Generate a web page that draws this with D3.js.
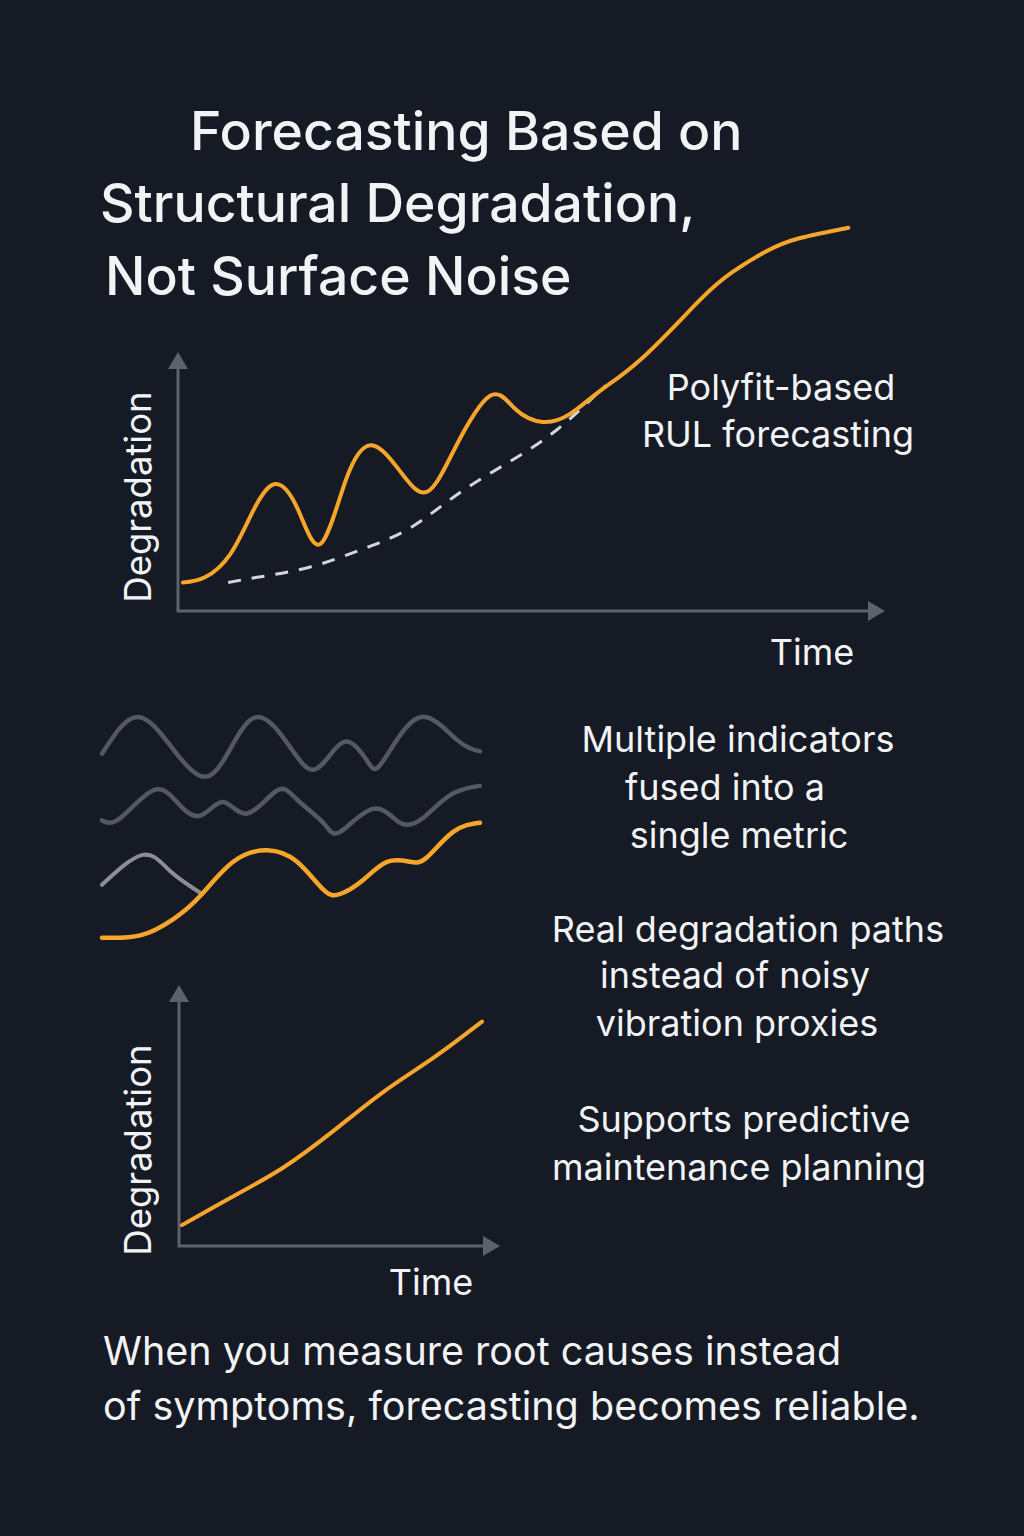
<!DOCTYPE html>
<html>
<head>
<meta charset="utf-8">
<script src="https://cdn.jsdelivr.net/npm/d3@7"></script>
<style>
  html, body { margin: 0; padding: 0; background: #151a24; }
  svg { display: block; }
  text { font-family: Inter, "Noto Sans", sans-serif; fill: #f2f3f5; }
</style>
</head>
<body>
<svg id="chart" width="1024" height="1536"></svg>
<script>
// top chart: noisy degradation signal and polyfit trend
var topTime = [0.7, 3.8, 7.4, 10.5, 13.7, 17.0, 20.2, 23.8, 27.4, 31.4, 35.2, 39.2, 44.1, 47.7, 51.6, 55.4, 59.7, 65.8, 73.8, 78.5, 83.3, 88.0, 94.8];
var topSignal = [11, 13, 22, 38, 49, 39, 26, 51, 64, 54, 46, 63, 83, 78, 73, 76, 85, 98, 120, 131, 139, 144, 148];
var fitTime = [7.1, 11.2, 18.7, 26.2, 32.8, 39.5, 46.5, 53.6, 60.4];
var fitValue = [11, 13, 17, 24, 32, 45, 57, 70, 87];

// middle: indicators fused into one metric
var w1Time = [0, 9.3, 18.8, 27.2, 33.9, 41.3, 49.7, 55.8, 61.1, 65.6, 70.1, 73.0, 78.0, 85.4, 93.9, 100];
var w1Value = [81, 97, 83, 71, 83, 97, 84, 74, 82, 86, 78, 75, 87, 97, 87, 82];
var w2Time = [0, 4.8, 13.5, 19.8, 25.9, 32.0, 38.4, 46.3, 51.6, 58.5, 63.0, 71.7, 78.8, 84.9, 92.1, 100];
var w2Value = [52, 53, 65, 60, 54, 60, 55, 65, 61, 51, 47, 57, 51, 53, 63, 67];
var w3Time = [0, 10.8, 18.0, 26.5];
var w3Value = [24, 37, 30, 20];
var fusedTime = [0, 10.1, 18.8, 25.9, 34.7, 43.7, 51.6, 58.5, 63.0, 69.0, 75.4, 81.5, 86.0, 92.9, 100];
var fusedValue = [1, 2, 9, 19, 34, 39, 34, 22, 20, 26, 34, 34, 36, 47, 51];

// bottom chart: real degradation path
var pathTime = [0.9, 16.8, 32.4, 48.0, 63.6, 79.1, 94.4];
var pathValue = [8, 19, 30, 44, 59, 72, 86];

var titleLines = ["Forecasting Based on", "Structural Degradation,", "Not Surface Noise"];
var footerLines = ["When you measure root causes instead", "of symptoms, forecasting becomes reliable."];

var orange = "#f7a52b",
    axisGray = "#5c616a",
    svg = d3.select("#chart");

svg.append("rect").attr("width", 1024).attr("height", 1536).attr("fill", "#151a24");

function pairs(xs, ys) {
    return xs.map(function (x, i) { return [x, ys[i]]; });
}

function drawLine(x, y, xs, ys, color, width, dash) {
    var line = d3.line()
        .x(function (d) { return x(d[0]); })
        .y(function (d) { return y(d[1]); })
        .curve(d3.curveNatural);
    var p = svg.append("path")
        .attr("d", line(pairs(xs, ys)))
        .attr("fill", "none")
        .attr("stroke", color)
        .attr("stroke-width", width)
        .attr("stroke-linecap", dash ? "butt" : "round");
    if (dash) p.attr("stroke-dasharray", dash);
}

function drawAxes(x, y) {
    var x0 = x.range()[0], x1 = x.range()[1],
        y0 = y.range()[0], y1 = y.range()[1];
    svg.append("path")
        .attr("d", "M" + x0 + "," + (y1 + 14) + "V" + y0 + "H" + (x1 - 14))
        .attr("fill", "none")
        .attr("stroke", axisGray)
        .attr("stroke-width", 3);
    svg.append("path")
        .attr("d", "M" + x0 + "," + y1 + "l-10,17h20z")
        .attr("fill", axisGray);
    svg.append("path")
        .attr("d", "M" + x1 + "," + y0 + "l-17,-10v20z")
        .attr("fill", axisGray);
}

function label(txt, xPos, yPos, size, anchor, rotate) {
    var t = svg.append("text")
        .attr("x", xPos)
        .attr("y", yPos)
        .attr("font-size", size)
        .attr("text-anchor", anchor || "middle")
        .text(txt);
    if (rotate) {
        t.attr("x", 0).attr("y", 0)
            .attr("transform", "translate(" + xPos + "," + yPos + ") rotate(-90)");
    }
    return t;
}

// title
label(titleLines[0], 190, 150, 53.5, "start").attr("font-weight", 500);
label(titleLines[1], 100, 222, 53.5, "start").attr("font-weight", 500);
label(titleLines[2], 105, 295, 53.5, "start").attr("font-weight", 500);

// top chart
var xTop = d3.scaleLinear().domain([0, 100]).range([178, 885]),
    yTop = d3.scaleLinear().domain([0, 100]).range([611, 352]);
drawAxes(xTop, yTop);
drawLine(xTop, yTop, fitTime, fitValue, "#d4d6da", 3, "13,11");
drawLine(xTop, yTop, topTime, topSignal, orange, 4);
label("Degradation", 151, 497, 36.5, "middle", true);
label("Time", 812, 665, 36);
label("Polyfit-based", 781, 400, 36);
label("RUL forecasting", 778, 447, 36);

// middle waves
var xMid = d3.scaleLinear().domain([0, 100]).range([102, 480]),
    yMid = d3.scaleLinear().domain([0, 100]).range([940, 710]);
drawLine(xMid, yMid, w1Time, w1Value, "#55595f", 4.5);
drawLine(xMid, yMid, w2Time, w2Value, "#55595f", 4.5);
drawLine(xMid, yMid, w3Time, w3Value, "#8c8e93", 4);
drawLine(xMid, yMid, fusedTime, fusedValue, orange, 4.5);
label("Multiple indicators", 738, 752, 36);
label("fused into a", 725, 800, 36);
label("single metric", 739, 848, 36);

label("Real degradation paths", 748, 942, 36);
label("instead of noisy", 735, 988, 36);
label("vibration proxies", 737, 1036, 36);
label("Supports predictive", 744, 1132, 36);
label("maintenance planning", 739, 1180, 36);

// bottom chart
var xBot = d3.scaleLinear().domain([0, 100]).range([179, 500]),
    yBot = d3.scaleLinear().domain([0, 100]).range([1246, 985]);
drawAxes(xBot, yBot);
drawLine(xBot, yBot, pathTime, pathValue, orange, 4);
label("Degradation", 151, 1150, 36.5, "middle", true);
label("Time", 431, 1295, 36);

// footer
label(footerLines[0], 103, 1365, 39.5, "start");
label(footerLines[1], 103, 1420, 39.5, "start");
</script>
</body>
</html>
